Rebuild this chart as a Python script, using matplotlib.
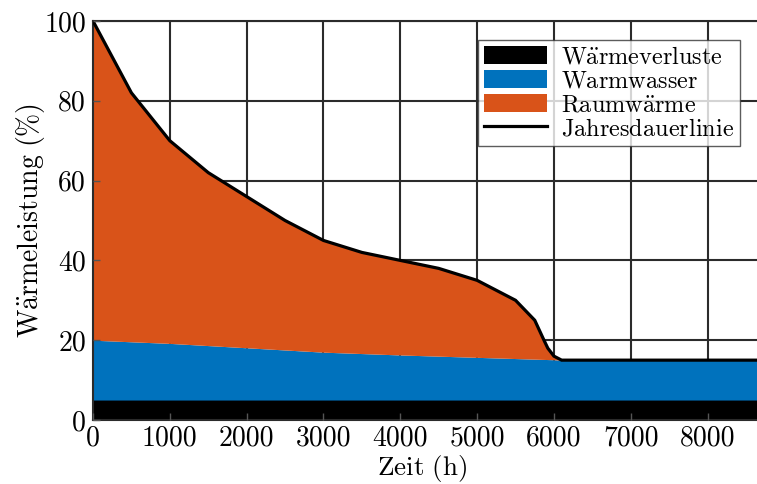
import numpy as np
import matplotlib
matplotlib.use("Agg")
import matplotlib.pyplot as plt
from matplotlib.patches import Patch
from matplotlib.lines import Line2D

plt.rcParams['font.family'] = ['cmr10', 'DejaVu Serif']
plt.rcParams['mathtext.fontset'] = 'cm'
plt.rcParams['axes.unicode_minus'] = False

# Data
hours_load = [0, 500, 1000, 1500, 2000, 2500, 3000, 3500, 4000, 4500, 5000, 5500, 5750, 5870, 5920, 6000, 6100, 8760]
load_pct = [100, 82, 70, 62, 56, 50, 45, 42, 40, 38, 35, 30, 25, 20, 18, 16, 15, 15]

hours_ww = [0, 1000, 2000, 3000, 4000, 5000, 6000, 6100, 8760]
ww_top_pct = [20, 19.2, 18.1, 17.0, 16.3, 15.7, 15.1, 15, 15]

losses_pct = 5

xticks = [0, 1000, 2000, 3000, 4000, 5000, 6000, 7000, 8000]
yticks = [0, 20, 40, 60, 80, 100]

labels = [r'$\mathrm{W\ddot{a}rmeverluste}$', r'$\mathrm{Warmwasser}$',
          r'$\mathrm{Raumw\ddot{a}rme}$', r'$\mathrm{Jahresdauerlinie}$']
colors = ['#000000', '#0072BD', '#D95319']

W, H = 757, 484
fig = plt.figure(figsize=(W/100, H/100), dpi=100)
left, bottom, right, top = 93, 420, 766, 21
pos = [left/W, 1-bottom/H, (right-left)/W, (bottom-top)/H]
ax = fig.add_axes(pos)

x = np.array(hours_load, dtype=float)
load = np.array(load_pct, dtype=float)
ww = np.interp(x, hours_ww, ww_top_pct)

ax.fill_between(x, 0, losses_pct, color=colors[0], lw=0, zorder=1)
ax.fill_between(x, losses_pct, ww, color=colors[1], lw=0, zorder=1)
ax.fill_between(x, ww, load, color=colors[2], lw=0, zorder=1)
ax.plot(hours_load, load_pct, color='black', lw=2.3, zorder=3, solid_joinstyle='miter')

ax.set_xlim(0, 8760)
ax.set_ylim(0, 100)
ax.set_xticks(xticks)
ax.set_yticks(yticks)
ax.set_axisbelow(True)
ax.grid(True, color='#2b2b2b', lw=1.5)
ax.tick_params(direction='in', length=0, labelsize=20, pad=5, colors='#2b2b2b', labelcolor='black')
ax.tick_params(axis='x', pad=3.5)
for s in ax.spines.values():
    s.set_color('#2b2b2b')
    s.set_linewidth(1.5)
ax.spines['right'].set_visible(False)

ax.set_xlabel(r'$\mathrm{Zeit\ (h)}$', fontsize=19.5)
ax.xaxis.set_label_coords((421.5 - left) / (right - left), -(468 - bottom) / (bottom - top))
ax.xaxis.label.set_va('center')
ax.set_ylabel(r'$\mathrm{W\ddot{a}rmeleistung\ (\%)}$', fontsize=20)
ax.yaxis.set_label_coords(-(left - 31) / (right - left), 0.5)
ax.yaxis.label.set_va('center')

# overlay for tick marks on top of fills
ax2 = fig.add_axes(pos, sharex=ax, sharey=ax)
ax2.patch.set_visible(False)
for s in ax2.spines.values():
    s.set_visible(False)
ax2.tick_params(direction='in', length=5, width=1, colors='#555555', labelleft=False, labelbottom=False)

handles = [Patch(facecolor=colors[0], edgecolor='none'),
           Patch(facecolor=colors[1], edgecolor='none'),
           Patch(facecolor=colors[2], edgecolor='none'),
           Line2D([0], [0], color='black', lw=2.3)]
leg = fig.legend(handles, labels, loc='upper left', bbox_to_anchor=(478/W, 1-40/H),
                 fontsize=17.5, frameon=True, fancybox=False, edgecolor='#333333',
                 handlelength=2.6, handleheight=0.78, handletextpad=0.55, labelspacing=0.05,
                 borderpad=0.25, borderaxespad=0)
leg.get_frame().set_linewidth(1.0)
leg.set_zorder(10)

fig.savefig('out.png', dpi=100)
